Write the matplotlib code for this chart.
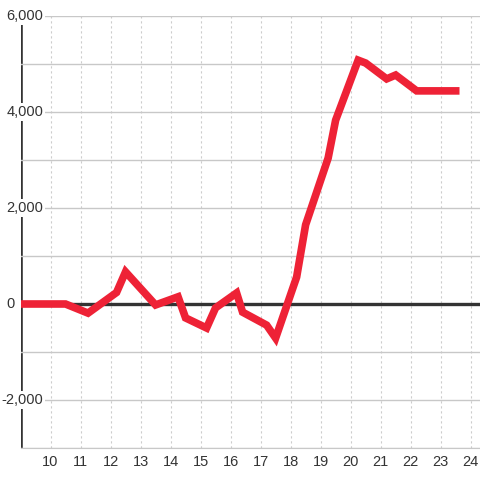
import matplotlib.pyplot as plt
from matplotlib.ticker import MultipleLocator

plt.rcParams['font.family'] = ['Liberation Sans', 'DejaVu Sans']

hours = [9, 10.5, 11.25, 12.2, 12.5, 13.5, 14.25, 14.5, 15.2, 15.5, 16.2, 16.4,
         17.2, 17.5, 18.2, 18.5, 19.25, 19.5, 20.25, 20.5, 21.2, 21.5, 22.2, 23.5]
values = [0, 0, -190, 240, 670, -20, 150, -290, -500, -80, 230, -170,
          -440, -710, 560, 1650, 3040, 3830, 5080, 5020, 4690, 4770, 4440, 4440]
x_ticks = list(range(10, 25))
y_ticks = [-2000, 0, 2000, 4000, 6000]

fig = plt.figure(figsize=(4.8, 4.8), dpi=100)
ax = fig.add_axes([20.5 / 480, 32 / 480, 1 - 20.5 / 480, 432 / 480])

ax.plot(hours, values, color='#ee2236', lw=5.5, solid_joinstyle='miter', zorder=3)
ax.axhline(0, color='#333333', lw=2.4, zorder=1.6)
ax.axvline(9, color='#333333', lw=2.6, zorder=1.2)

ax.set_xlim(9, 24.31)
ax.set_ylim(-3000, 6000)
ax.set_xticks(x_ticks)
ax.set_yticks(y_ticks)
ax.set_yticklabels([])
ax.yaxis.set_minor_locator(MultipleLocator(1000))

ax.grid(axis='y', which='both', color='#c8c8c8', lw=1)
ax.grid(axis='x', color='#cccccc', lw=0.8, ls=(0, (2, 2.5)))

for s in ['top', 'right', 'left']:
    ax.spines[s].set_visible(False)
ax.spines['bottom'].set_color('#c8c8c8')

ax.tick_params(axis='both', which='both', length=0, labelsize=10.5, labelcolor='#333333')
ax.tick_params(axis='x', pad=5)

# y labels sit inside the plot, with a white box over the axis line
for v in y_ticks:
    xpos = -0.012 if v == 0 else 0.049
    ax.text(xpos, v, f'{v:,}', transform=ax.get_yaxis_transform(), ha='right', va='center',
            fontsize=10.5, color='#333333', clip_on=False, zorder=2,
            bbox=dict(facecolor='white', edgecolor='none', pad=1.5))

fig.savefig('out.png')
